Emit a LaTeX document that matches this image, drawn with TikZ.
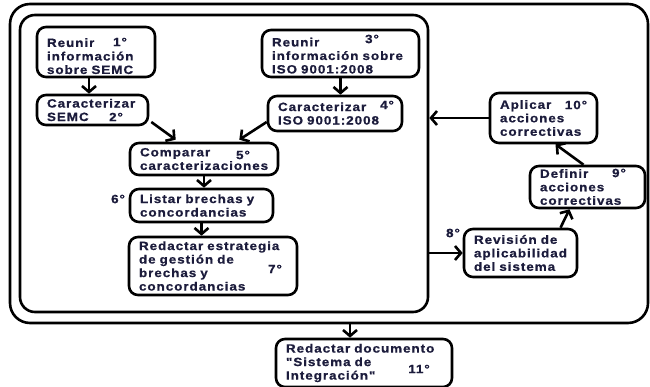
\documentclass[tikz,border=0pt]{standalone}
\usepackage{fontspec}
\setmainfont{Liberation Sans}[Ligatures=TeXOff, LetterSpace=8, FakeStretch=1.12, WordSpace=1.6, FakeBold=0.8]
\usetikzlibrary{arrows.meta,calc}
\definecolor{tinta}{HTML}{1C1C3C}

\begin{document}
\begin{tikzpicture}[
  x=1pt, y=-1pt,
  font=\fontsize{12}{13.5}\selectfont\bfseries,
  >={Straight Barb[length=6pt,width=14pt]},
  line width=2.6pt,
  paso/.style={draw, rounded corners=9pt, text=tinta, align=left, inner xsep=10pt, inner ysep=0pt},
  grado/.style={text=tinta, inner sep=0pt},
  marco/.style={draw, inner sep=0pt},
  flecha/.style={->},
]
  \useasboundingbox (0,0) rectangle (650,387);

  % ===================== MARCOS =====================
  \node[marco, rounded corners=20pt, minimum width=638, minimum height=319] (exterior) at (329,163.5) {};
  \node[marco, rounded corners=15pt, minimum width=408, minimum height=297] (interior) at (224,163.5) {};

  % ===================== PASOS =====================
  \node[paso, text width=98, minimum height=50, text height=17] (n1) at (96,52) {Reunir\\información\\sobre~SEMC};
  \node[paso, text width=91, minimum height=30] (n2) at (92.5,110) {Caracterizar\\SEMC};
  \node[paso, text width=137, minimum height=47, text height=13] (n3) at (340.5,53.5) {Reunir\\información~sobre\\ISO~9001:2008};
  \node[paso, text width=114, minimum height=35] (n4) at (335,113.5) {Caracterizar\\ISO~9001:2008};
  \node[paso, text width=128, minimum height=32] (n5) at (204,159) {Comparar\\caracterizaciones};
  \node[paso, text width=123, minimum height=33] (n6) at (201.5,205.5) {Listar~brechas~y\\concordancias};
  \node[paso, text width=148, minimum height=58] (n7) at (213,266) {Redactar~estrategia\\de~gestión~de\\brechas~y\\concordancias};
  \node[paso, text width=93, minimum height=48] (n8) at (520.5,253) {Revisión~de\\aplicabilidad\\del~sistema};
  \node[paso, text width=95, minimum height=42] (n9) at (587.5,187) {Definir\\acciones\\correctivas};
  \node[paso, text width=87, minimum height=50] (n10) at (543.5,118) {Aplicar\\acciones\\correctivas};
  \node[paso, text width=156, minimum height=48] (n11) at (364,363) {Redactar~documento\\"Sistema~de\\Integración"};

  % orden de los pasos
  \node[grado] (g1) at (120,42) {1°};
  \node[grado] (g2) at (116,117) {2°};
  \node[grado] (g3) at (372,39) {3°};
  \node[grado] (g4) at (387,105) {4°};
  \node[grado] (g5) at (243,155) {5°};
  \node[grado] (g6) at (118,199) {6°};
  \node[grado] (g7) at (275,269) {7°};
  \node[grado] (g8) at (453,233) {8°};
  \node[grado] (g9) at (619,173) {9°};
  \node[grado] (g10) at (576,105) {10°};
  \node[grado] (g11) at (419,369) {11°};

  % ===================== FLECHAS =====================
  \draw[flecha] ($(n1.south)+(-7,0)$) -- ($(n2.north)+(-3.5,0)$);
  \draw[flecha] (n3.south) -- (n3.south |- n4.north);
  \draw[flecha] ($(n2.east)+(2,12)$) -- ($(n5.north west)+(47,-2)$);
  \draw[flecha] ($(n4.west)+(0,8.5)$) -- ($(n5.north east)+(-40,-2)$);
  \draw[flecha] (n5.south) -- (n5.south |- n6.north);
  \draw[flecha] (n6.south) -- (n6.south |- n7.north);
  \draw[flecha] (interior.east |- n8.west) -- (n8.west);
  \draw[flecha] ($(n8.north)+(40,0)$) -- ($(n9.south)+(-18,0)$);
  \draw[flecha] ($(n9.north)+(-4,0)$) -- ($(n10.south)+(12,0)$);
  \draw[flecha] (n10.west) -- (n10.west -| interior.east);
  \coordinate (c11) at ($(n11.north)+(-14,0)$);
  \draw[flecha] (c11 |- exterior.south) -- (c11);
\end{tikzpicture}
\end{document}
